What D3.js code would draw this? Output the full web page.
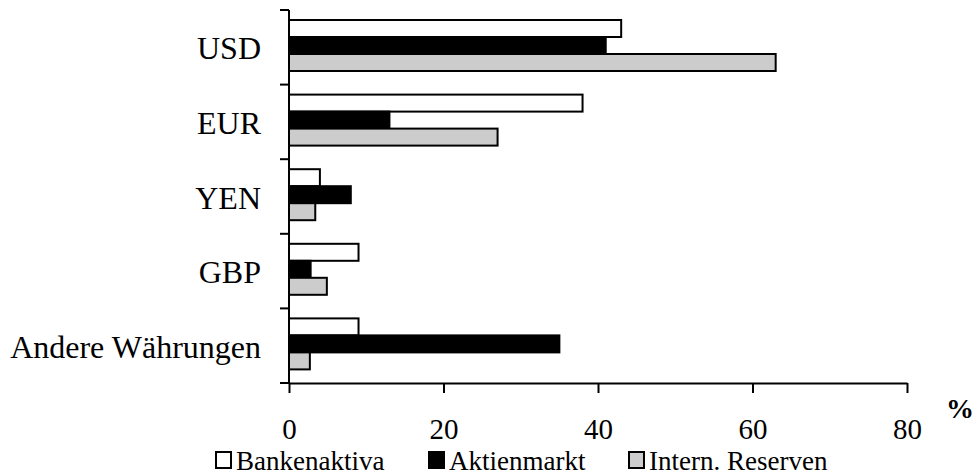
<!DOCTYPE html>
<html>
<head>
<meta charset="utf-8">
<script src="https://cdn.jsdelivr.net/npm/d3@7"></script>
<style>
  html, body { margin: 0; padding: 0; background: #fff; }
  svg { display: block; }
</style>
</head>
<body>
<svg id="chart" width="979" height="476" font-family="Liberation Serif"></svg>
<script>
const categories = ["USD", "EUR", "YEN", "GBP", "Andere Währungen"];
const seriesNames = ["Bankenaktiva", "Aktienmarkt", "Intern. Reserven"];
const bankenaktiva = [43, 38, 4, 9, 9];
const aktienmarkt = [41, 13, 8, 2.8, 35];
const reserven = [63, 27, 3.4, 4.9, 2.7];
const seriesColors = ["#ffffff", "#000000", "#cccccc"];
const xTicks = [0, 20, 40, 60, 80];
const unitLabel = "%";

const FONT = "'Liberation Serif'";
const seriesValues = [bankenaktiva, aktienmarkt, reserven];
const svg = d3.select("#chart");

const x = d3.scaleLinear().domain([0, 80]).range([289, 907]);
const y = d3.scaleBand().domain(categories).range([10, 383]).padding(0);
const inner = d3.scaleBand().domain(seriesNames).range([10, 61]).padding(0);

// bars
categories.forEach((cat, ci) => {
  seriesNames.forEach((s, si) => {
    const v = seriesValues[si][ci];
    svg.append("rect")
      .attr("x", x(0))
      .attr("y", y(cat) + inner(s))
      .attr("width", x(v) - x(0))
      .attr("height", inner.bandwidth())
      .attr("fill", seriesColors[si])
      .attr("stroke", "#000")
      .attr("stroke-width", 2);
  });
});

// left axis
const yAxisG = svg.append("g");
yAxisG.append("line")
  .attr("x1", 289).attr("x2", 289)
  .attr("y1", y.range()[0]).attr("y2", y.range()[1])
  .attr("stroke", "#000").attr("stroke-width", 2);
const boundaries = categories.map(c => y(c)).concat([y.range()[1]]);
boundaries.forEach(b => {
  yAxisG.append("line")
    .attr("x1", 280).attr("x2", 289)
    .attr("y1", b).attr("y2", b)
    .attr("stroke", "#000").attr("stroke-width", 2);
});
categories.forEach(c => {
  yAxisG.append("text")
    .attr("x", 261)
    .attr("y", y(c) + y.bandwidth() / 2 + 12)
    .attr("text-anchor", "end")
    .style("font-family", FONT)
    .attr("font-size", 32)
    .attr("fill", "#000")
    .text(c);
});

// bottom axis
const xAxis = d3.axisBottom(x).tickValues(xTicks).tickSize(10).tickSizeOuter(0).tickPadding(0);
const xAxisG = svg.append("g").attr("transform", "translate(0,383)").call(xAxis);
xAxisG.attr("font-family", null);
xAxisG.select(".domain").attr("stroke", "#000").attr("stroke-width", 2);
xAxisG.selectAll(".tick line").attr("stroke", "#000").attr("stroke-width", 2);
xAxisG.selectAll(".tick text")
  .style("font-family", FONT)
  .attr("font-size", 29)
  .attr("fill", "#000")
  .attr("dy", null)
  .attr("y", 56);

svg.append("text")
  .attr("x", 960).attr("y", 418)
  .attr("text-anchor", "middle")
  .style("font-family", FONT)
  .attr("font-size", 28)
  .attr("font-weight", "bold")
  .text(unitLabel);

// legend
const legendPos = [215, 428, 628];
seriesNames.forEach((s, i) => {
  const g = svg.append("g").attr("transform", `translate(${legendPos[i]},451)`);
  g.append("rect")
    .attr("x", 1).attr("y", 1)
    .attr("width", 15).attr("height", 16)
    .attr("fill", seriesColors[i])
    .attr("stroke", "#000").attr("stroke-width", 2);
  g.append("text")
    .attr("x", 21).attr("y", 19)
    .style("font-family", FONT)
    .attr("font-size", 27)
    .attr("fill", "#000")
    .text(s);
});
</script>
</body>
</html>
